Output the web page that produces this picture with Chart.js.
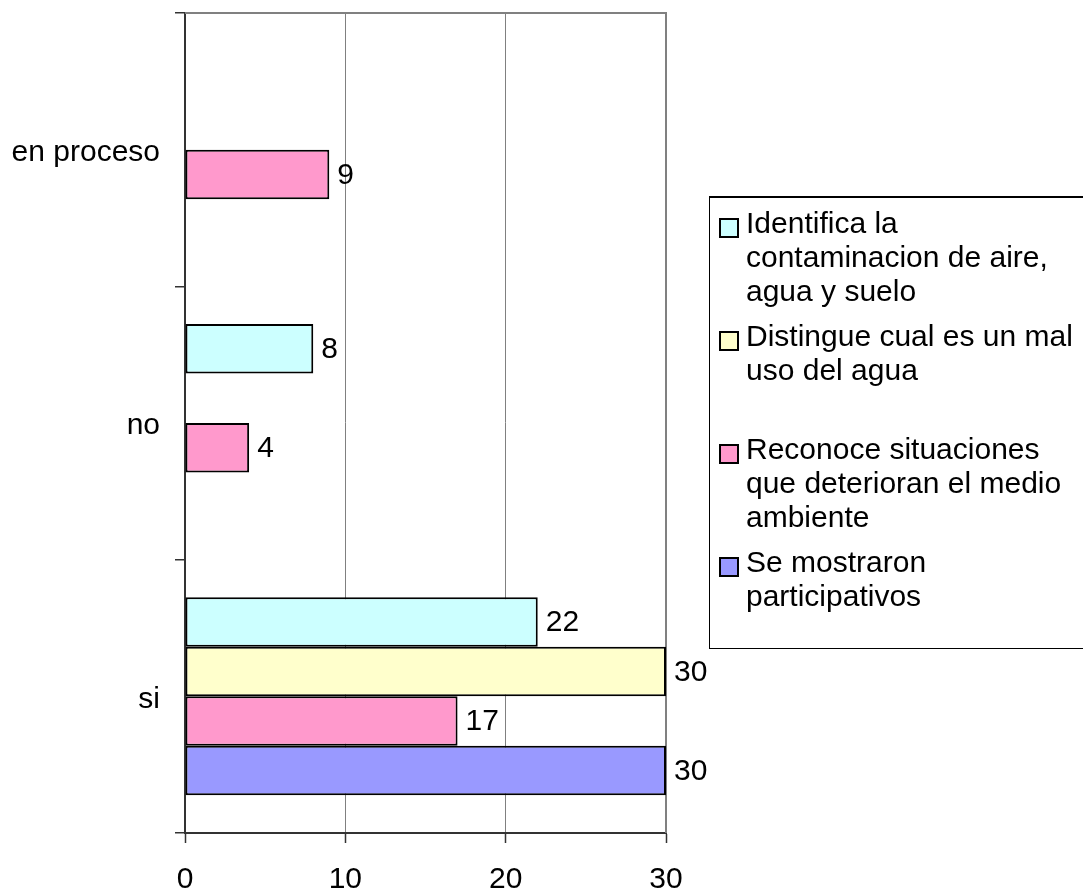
<!DOCTYPE html>
<html>
<head>
<meta charset="utf-8">
<title>Resultados</title>
<script src="https://cdn.jsdelivr.net/npm/chart.js@4.4.1/dist/chart.umd.min.js"></script>
<style>
  html, body { margin: 0; padding: 0; background: #fff; }
  #wrap { position: relative; width: 1083px; height: 894px; overflow: hidden; }
  #legend {
    position: absolute; left: 709px; top: 196px; width: 390px; height: 450px;
    border: 1px solid #000; border-top-width: 2px;
    font-family: 'Liberation Sans', Arial, sans-serif; font-size: 30px; line-height: 34px; color: #000;
  }
  .item { position: relative; height: 113px; box-sizing: border-box; padding: 8px 0 0 36px; white-space: nowrap; }
  .mark { position: absolute; left: 9px; top: 20px; width: 16px; height: 16px; border: 2px solid #000; }
</style>
</head>
<body>
<div id="wrap">
  <canvas id="chart" width="1083" height="894"></canvas>
  <div id="legend"></div>
</div>
<script>
// ========== 1) data ==========
const categories = ['en proceso', 'no', 'si'];
const xTicks = [0, 10, 20, 30];

const seriesNames = [
  ['Identifica la', 'contaminacion de aire,', 'agua y suelo'],
  ['Distingue cual es un mal', 'uso del agua'],
  ['Reconoce situaciones', 'que deterioran el medio', 'ambiente'],
  ['Se mostraron', 'participativos']
];
const seriesColors = ['#CCFFFF', '#FFFFCC', '#FF99CC', '#9999FF'];

// values per category: en proceso, no, si
const identifica = [null, 8, 22];
const distingue = [null, null, 30];
const reconoce = [9, 4, 17];
const mostraron = [null, null, 30];

const seriesValues = [identifica, distingue, reconoce, mostraron];

const FONT = "'Liberation Sans', Arial, sans-serif";
Chart.defaults.font.family = FONT;
Chart.defaults.color = '#000';

// ========== 2) plugins ==========
// value written at the end of each bar
const barValues = {
  id: 'barValues',
  afterDatasetsDraw: (chart) => {
    const ctx = chart.ctx;
    ctx.save();
    ctx.font = '30px ' + FONT;
    ctx.fillStyle = '#000';
    ctx.textAlign = 'left';
    ctx.textBaseline = 'middle';
    chart.data.datasets.forEach((ds, i) => {
      chart.getDatasetMeta(i).data.forEach((bar, j) => {
        const v = ds.data[j];
        if (v === null || v === undefined) return;
        ctx.fillText(v, bar.x + 8, bar.y + 1);
      });
    });
    ctx.restore();
  }
};

// grey frame line on top of the plot area
const plotFrame = {
  id: 'plotFrame',
  beforeDatasetsDraw: (chart) => {
    const { ctx, chartArea } = chart;
    ctx.save();
    ctx.strokeStyle = '#808080';
    ctx.lineWidth = 2;
    ctx.beginPath();
    ctx.moveTo(chartArea.left, chartArea.top);
    ctx.lineTo(chartArea.right, chartArea.top);
    ctx.lineTo(chartArea.right, chartArea.bottom);
    ctx.stroke();
    ctx.restore();
  }
};

// ========== 3) chart ==========
const chart = new Chart(document.getElementById('chart'), {
  type: 'bar',
  data: {
    labels: categories,
    datasets: seriesValues.map((vals, i) => ({
      label: seriesNames[i].join(' '),
      data: vals,
      backgroundColor: seriesColors[i],
      borderColor: '#000',
      borderWidth: 2,
      borderSkipped: false,
      categoryPercentage: 0.7245,
      barPercentage: 1
    }))
  },
  options: {
    indexAxis: 'y',
    responsive: false,
    animation: false,
    devicePixelRatio: 1,
    layout: { padding: { top: 13, right: 417, left: 0, bottom: 0 } },
    plugins: {
      legend: { display: false },
      tooltip: { enabled: false }
    },
    scales: {
      x: {
        min: xTicks[0],
        max: xTicks[xTicks.length - 1],
        afterBuildTicks: (scale) => { scale.ticks = xTicks.map(v => ({ value: v })); },
        afterFit: (scale) => { scale.height = 61; },
        ticks: { font: { size: 30 }, color: '#000', padding: 19, maxRotation: 0 },
        grid: {
          color: '#808080',
          lineWidth: 1,
          tickLength: 10,
          tickColor: '#333',
          tickWidth: 1.5
        },
        border: { display: true, color: '#333', width: 2 }
      },
      y: {
        afterFit: (scale) => {
          scale.width = 185;
          scale.paddingTop = 0;
          scale.paddingBottom = 0;
        },
        ticks: { font: { size: 30 }, color: '#000', padding: 15, labelOffset: 3 },
        grid: {
          offset: true,
          drawOnChartArea: false,
          tickLength: 10,
          color: '#333',
          lineWidth: 1.5
        },
        border: { display: true, color: '#333', width: 2 }
      }
    }
  },
  plugins: [plotFrame, barValues]
});

// ========== 4) legend ==========
const legendEl = document.getElementById('legend');
seriesNames.forEach((lines, i) => {
  const item = document.createElement('div');
  item.className = 'item';
  const mark = document.createElement('span');
  mark.className = 'mark';
  mark.style.background = seriesColors[i];
  item.appendChild(mark);
  item.insertAdjacentHTML('beforeend', lines.join('<br>'));
  legendEl.appendChild(item);
});
</script>
</body>
</html>
